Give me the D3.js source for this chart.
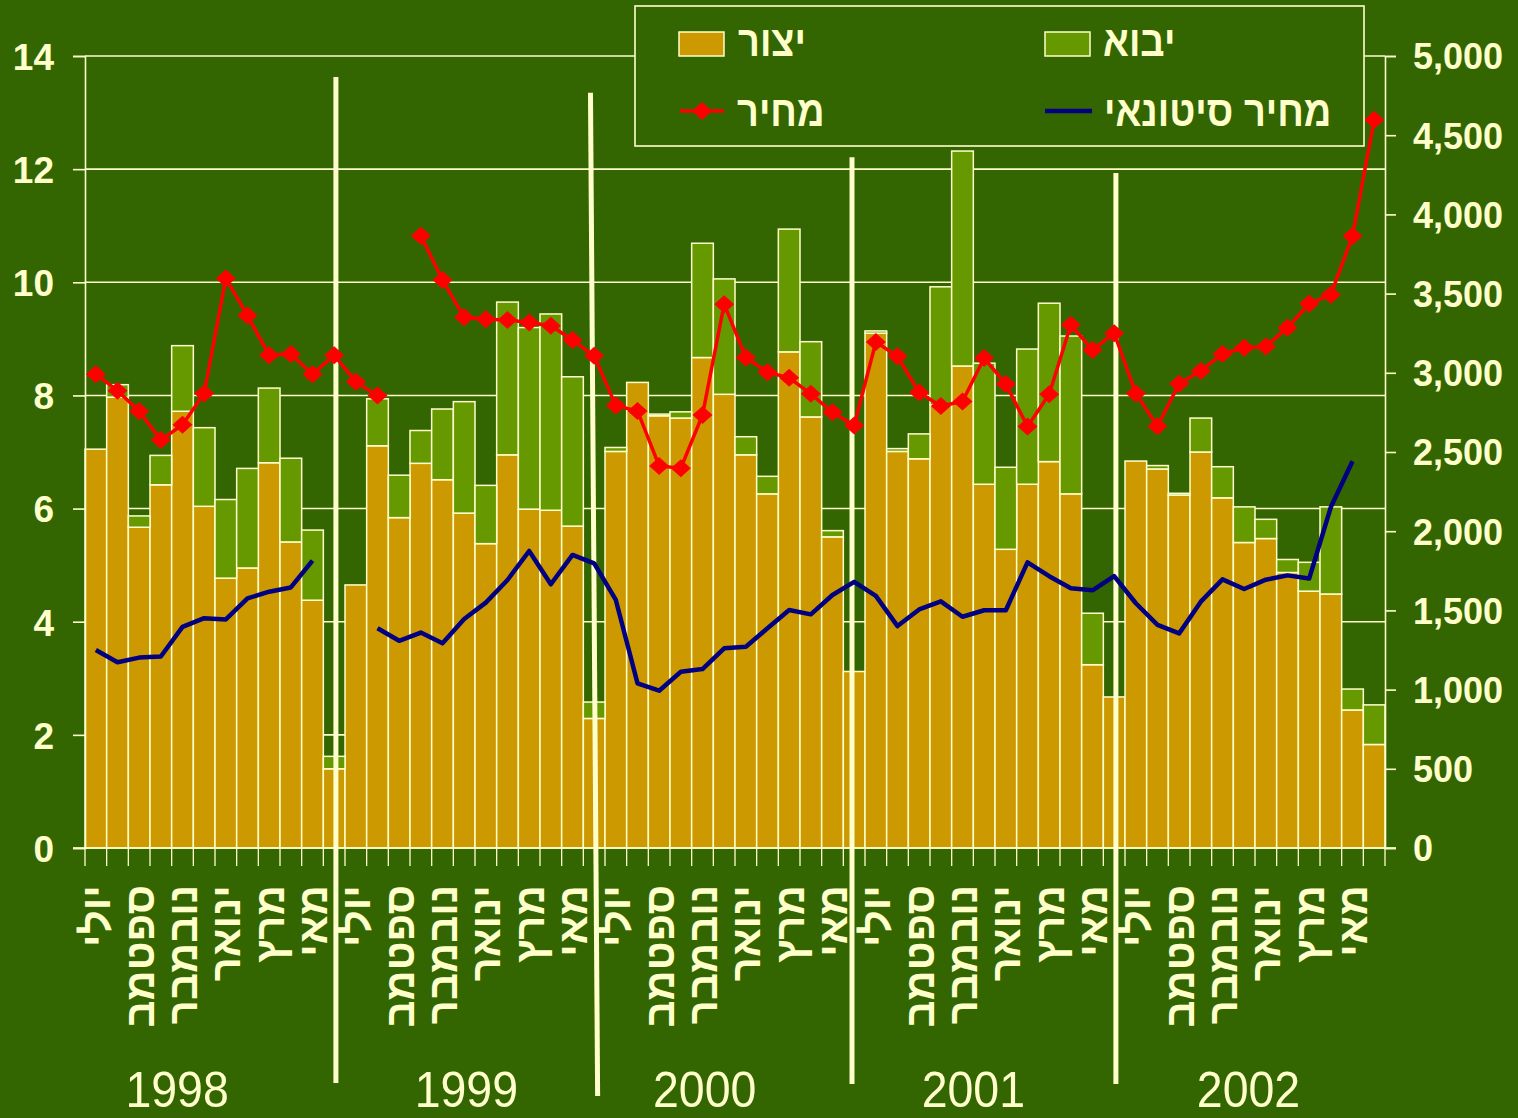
<!DOCTYPE html>
<html><head><meta charset="utf-8">
<script src="https://cdn.jsdelivr.net/npm/d3@7"></script>
<style>
html,body{margin:0;padding:0;background:#336600;}
svg{display:block;}
</style></head>
<body>
<svg id="chart" width="1518" height="1118"></svg>
<script>
// ---------- DATA ----------
const years = ["1998","1999","2000","2001","2002"];
const monthLabels = ["יולי","","ספטמב","","נובמבר","","ינואר","","מרץ","","מאי",""];

// production (יצור), left axis
const production = [
  7.05,7.97,5.67,6.42,7.72,6.04,4.77,4.95,6.81,5.41,4.38,1.40,
  4.65,7.11,5.84,6.80,6.51,5.92,5.38,6.95,5.99,5.97,5.69,2.29,
  7.01,8.23,7.64,7.60,8.67,8.02,6.95,6.26,8.77,7.62,5.50,3.12,
  9.10,7.01,6.88,7.83,8.52,6.43,5.28,6.43,6.83,6.26,3.24,2.67,
  6.84,6.70,6.24,7.00,6.19,5.40,5.47,4.87,4.54,4.49,2.44,1.83
];
// import (יבוא), left axis, stacked on production
const imports = [
  0.00,0.22,0.20,0.52,1.16,1.39,1.39,1.76,1.32,1.48,1.24,0.22,
  0.00,0.83,0.75,0.58,1.25,1.97,1.03,2.70,3.21,3.47,2.64,0.29,
  0.07,0.00,0.03,0.11,2.02,2.04,0.32,0.31,2.17,1.33,0.11,0.00,
  0.04,0.05,0.44,2.09,3.80,2.14,1.45,2.39,2.80,2.79,0.91,0.00,
  0.00,0.06,0.03,0.60,0.55,0.63,0.34,0.23,0.51,1.54,0.37,0.70
];
// price (מחיר), right axis
const price = [
  2991,2887,2757,2575,2672,2870,3596,3361,3111,3119,2991,3111,
  2944,2856,null,3866,3586,3350,3338,3333,3318,3297,3207,3107,
  2793,2759,2412,2398,2734,3433,3096,3004,2968,2867,2751,2667,
  3194,3104,2875,2790,2819,3093,2929,2661,2864,3303,3144,3250,
  2870,2662,2931,3012,3119,3158,3166,3285,3436,3493,3863,4597
];
// wholesale price (מחיר סיטונאי), right axis
const wholesale = [
  1250,1173,1202,1209,1396,1451,1443,1576,1618,1645,1814,null,
  null,1387,1308,1360,1292,1446,1549,1692,1875,1665,1850,1797,
  1566,1040,993,1113,1130,1261,1271,1387,1503,1475,1597,1680,
  1592,1401,1506,1557,1460,1501,1501,1803,1716,1640,1627,1716,
  1545,1409,1355,1555,1696,1635,1694,1721,1701,2152,2442,null
];
const leftTicks = [0,2,4,6,8,10,12,14];
const rightTicks = [0,500,1000,1500,2000,2500,3000,3500,4000,4500,5000];
const legendLabels = ["יצור","יבוא","מחיר","מחיר סיטונאי"];

// ---------- LAYOUT ----------
const C = {bg:"#336600", cream:"#FFFFCC", prod:"#CC9900", imp:"#669900", red:"#FF0000", blue:"#000080"};
const plot = {left:85, right:1385, top:56, bottom:848};
// hand-drawn year dividers: band-index position at top/bottom, top value on left axis
const dividers = [
  {xTop:11.58, xBot:11.58, top:13.63},
  {xTop:23.33, xBot:23.66, top:13.35},
  {xTop:35.40, xBot:35.40, top:12.21},
  {xTop:47.58, xBot:47.58, top:11.93}
];
const dividerBottom = [1083,1096,1084,1084];
const yearLabelPos = [4.25, 17.6, 28.6, 41.0, 53.7];

const N = production.length;
const svg = d3.select("#chart");
const x = d3.scaleBand().domain(d3.range(N)).range([plot.left, plot.right]).padding(0);
const y = d3.scaleLinear().domain([0,14]).range([plot.bottom, plot.top]);
const y2 = d3.scaleLinear().domain([0,5000]).range([plot.bottom, plot.top]);
const xPos = v => plot.left + v * x.step();
const cx = i => x(i) + x.bandwidth()/2;

svg.append("rect").attr("width",1518).attr("height",1118).attr("fill",C.bg);

// gridlines
svg.append("g").selectAll("line").data(leftTicks.filter(d=>d>0)).join("line")
  .attr("x1",plot.left).attr("x2",plot.right)
  .attr("y1",d=>y(d)).attr("y2",d=>y(d))
  .attr("stroke",C.cream).attr("stroke-width",1.6);

// bars
const rows = production.map((p,i)=>({i,p,m:imports[i]}));
const gb = svg.append("g");
gb.selectAll("rect.p").data(rows).join("rect").attr("class","p")
  .attr("x",d=>x(d.i)).attr("width",x.bandwidth())
  .attr("y",d=>y(d.p)).attr("height",d=>y(0)-y(d.p))
  .attr("fill",C.prod).attr("stroke",C.cream).attr("stroke-width",1.5);
gb.selectAll("rect.m").data(rows.filter(d=>d.m>0)).join("rect").attr("class","m")
  .attr("x",d=>x(d.i)).attr("width",x.bandwidth())
  .attr("y",d=>y(d.p+d.m)).attr("height",d=>y(d.p)-y(d.p+d.m))
  .attr("fill",C.imp).attr("stroke",C.cream).attr("stroke-width",1.5);

// left axis
const axL = svg.append("g").attr("transform",`translate(${plot.left},0)`)
  .call(d3.axisLeft(y).tickValues(leftTicks).tickSize(12).tickPadding(19).tickFormat(d3.format("d")));
axL.select(".domain").attr("stroke",C.cream).attr("stroke-width",1.6);
axL.selectAll(".tick line").attr("stroke",C.cream).attr("stroke-width",1.6);
axL.selectAll(".tick text").attr("fill",C.cream).attr("font-family","'Liberation Sans',Arial,sans-serif")
  .attr("font-weight","bold").attr("font-size",37).attr("dy","0.36em");

// right axis
const axR = svg.append("g").attr("transform",`translate(${plot.right},0)`)
  .call(d3.axisRight(y2).tickValues(rightTicks).tickSize(11).tickPadding(17).tickFormat(d3.format(",")));
axR.select(".domain").attr("stroke",C.cream).attr("stroke-width",1.6);
axR.selectAll(".tick line").attr("stroke",C.cream).attr("stroke-width",1.6);
axR.selectAll(".tick text").attr("fill",C.cream).attr("font-family","'Liberation Sans',Arial,sans-serif")
  .attr("font-weight","bold").attr("font-size",36).attr("dy","0.36em");

// bottom axis line + ticks at band boundaries
svg.append("line").attr("x1",plot.left-12).attr("x2",plot.right+11)
  .attr("y1",y(0)).attr("y2",y(0)).attr("stroke",C.cream).attr("stroke-width",1.6);
svg.append("g").selectAll("line").data(d3.range(N+1)).join("line")
  .attr("x1",d=>xPos(d)).attr("x2",d=>xPos(d))
  .attr("y1",y(0)).attr("y2",y(0)+18)
  .attr("stroke",C.cream).attr("stroke-width",1.3);

// month labels
const labRows = d3.range(N).map(i=>({i,t:monthLabels[i%12]})).filter(d=>d.t);
svg.append("g").selectAll("text").data(labRows).join("text")
  .attr("transform",d=>`translate(${cx(d.i)},885) rotate(-90)`)
  .attr("text-anchor","end").attr("dominant-baseline","central")
  .attr("fill",C.cream).attr("font-family","'Liberation Sans',Arial,sans-serif")
  .attr("font-weight","bold").attr("font-size",42)
  .text(d=>d.t);

// year labels
svg.append("g").selectAll("text").data(years).join("text")
  .attr("transform",(d,i)=>`translate(${xPos(yearLabelPos[i])},1107) scale(0.93,1)`)
  .attr("text-anchor","middle").attr("fill",C.cream)
  .attr("font-family","'Liberation Sans',Arial,sans-serif")
  .attr("font-size",50).text(d=>d);

// dividers
svg.append("g").selectAll("line").data(dividers).join("line")
  .attr("x1",d=>xPos(d.xTop)).attr("x2",d=>xPos(d.xBot))
  .attr("y1",d=>y(d.top)).attr("y2",(d,i)=>dividerBottom[i])
  .attr("stroke",C.cream).attr("stroke-width",5);

// lines
const lineP = d3.line().defined(d=>d!=null).x((d,i)=>cx(i)).y(d=>y2(d));
svg.append("path").datum(wholesale).attr("d",lineP)
  .attr("fill","none").attr("stroke",C.blue).attr("stroke-width",4.5).attr("stroke-linejoin","round");
svg.append("path").datum(price).attr("d",lineP)
  .attr("fill","none").attr("stroke",C.red).attr("stroke-width",3.5);
const diamond = "M0,-9L10,0L0,9L-10,0Z";
svg.append("g").selectAll("path").data(price.map((v,i)=>({v,i})).filter(d=>d.v!=null)).join("path")
  .attr("transform",d=>`translate(${cx(d.i)},${y2(d.v)})`).attr("d",diamond).attr("fill",C.red);

// legend
const lg = svg.append("g");
lg.append("rect").attr("x",635).attr("y",6).attr("width",729).attr("height",140)
  .attr("fill",C.bg).attr("stroke",C.cream).attr("stroke-width",1.6);
const ltext = (tx,ty,t) => lg.append("text")
  .attr("transform",`translate(${tx},${ty}) scale(1,1.12)`)
  .attr("fill",C.cream).attr("font-family","'Liberation Sans',Arial,sans-serif")
  .attr("font-weight","bold").attr("font-size",38).text(t);
lg.append("rect").attr("x",679).attr("y",32).attr("width",45).attr("height",24).attr("fill",C.prod).attr("stroke",C.cream).attr("stroke-width",1.5);
ltext(738,56,legendLabels[0]);
lg.append("rect").attr("x",1045).attr("y",32).attr("width",45).attr("height",24).attr("fill",C.imp).attr("stroke",C.cream).attr("stroke-width",1.5);
ltext(1103,56,legendLabels[1]);
lg.append("line").attr("x1",680).attr("x2",724).attr("y1",111).attr("y2",111).attr("stroke",C.red).attr("stroke-width",3.5);
lg.append("path").attr("transform","translate(702,111)").attr("d",diamond).attr("fill",C.red);
ltext(737,126,legendLabels[2]);
lg.append("line").attr("x1",1045).attr("x2",1092).attr("y1",111).attr("y2",111).attr("stroke",C.blue).attr("stroke-width",4.5);
ltext(1104,126,legendLabels[3]);
</script>
</body></html>
